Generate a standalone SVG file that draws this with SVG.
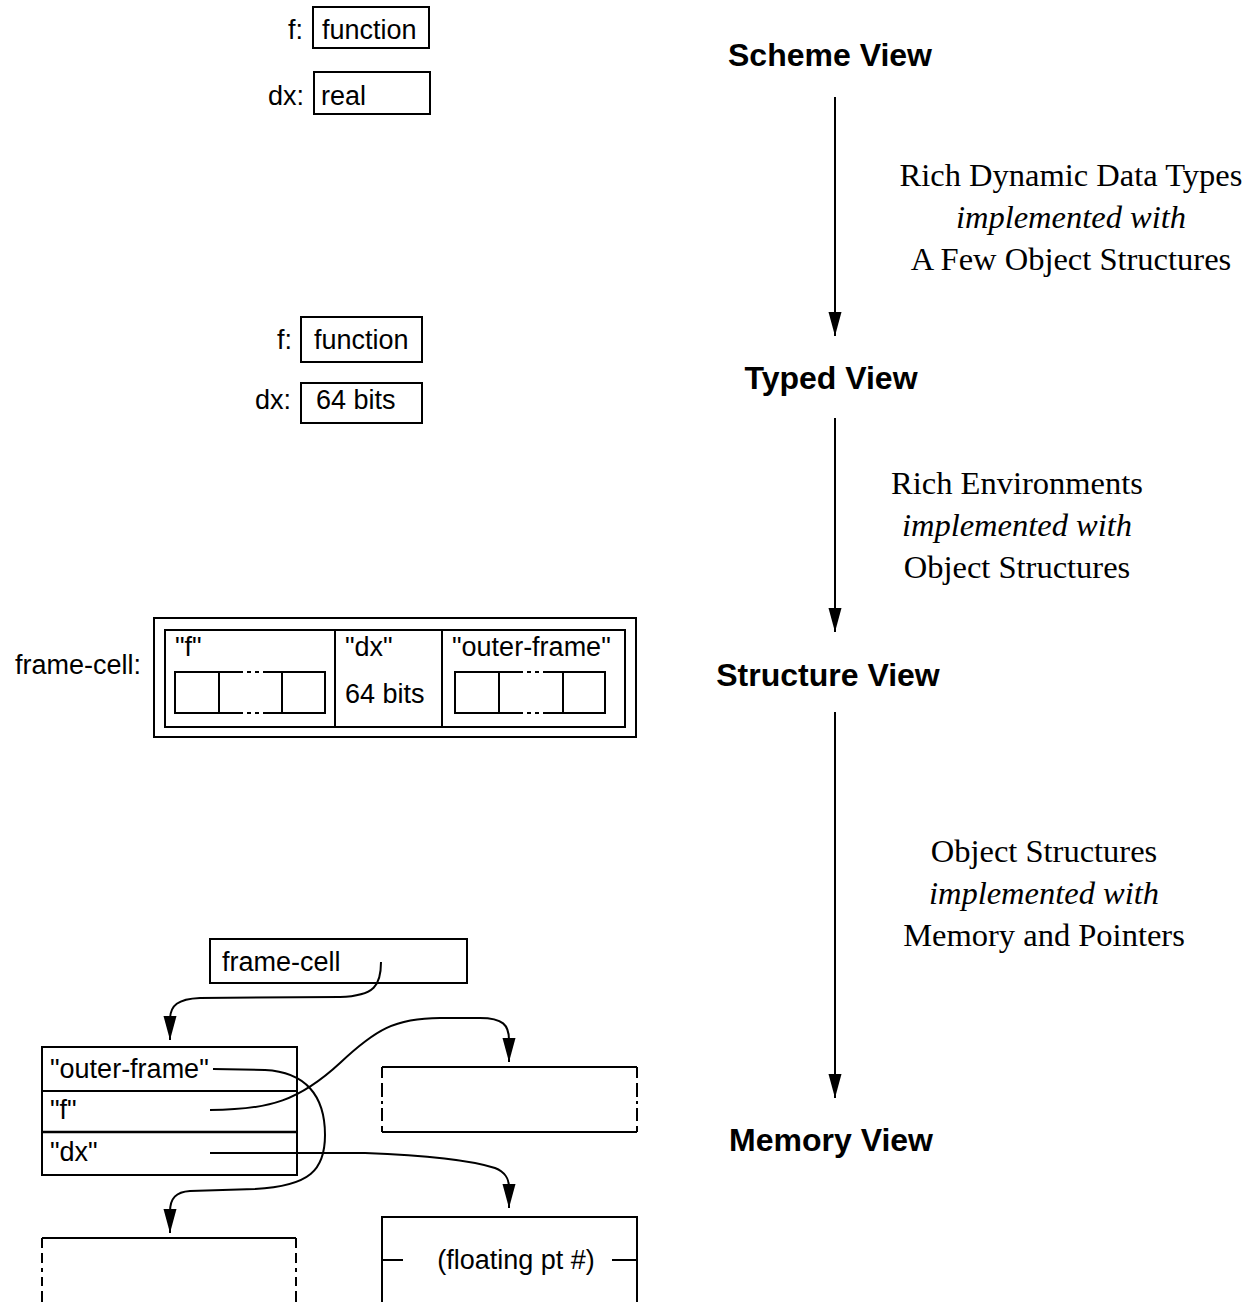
<svg xmlns="http://www.w3.org/2000/svg" width="1257" height="1302" viewBox="0 0 1257 1302">
<style>
.box{fill:none;stroke:#000;stroke-width:2}
.ln{fill:none;stroke:#000;stroke-width:2}
.s{font-family:"Liberation Sans",Arial,sans-serif;font-size:27px;fill:#000}
.b{font-family:"Liberation Sans",Arial,sans-serif;font-size:32px;font-weight:bold;fill:#000;text-anchor:middle}
.r{font-family:"Liberation Serif","Times New Roman",serif;font-size:32.5px;fill:#000;text-anchor:middle}
.i{font-style:italic}
.e{text-anchor:end}
.m{text-anchor:middle}
</style>
<defs>
<marker id="ah" markerUnits="userSpaceOnUse" markerWidth="26" markerHeight="14" refX="24" refY="6.5" orient="auto" viewBox="0 0 26 14">
<path d="M0,0 L24,6.5 L0,13 z" fill="#000"/>
</marker>
</defs>
<rect width="1257" height="1302" fill="#fff"/>

<g id="scheme-view">
<text class="s e" x="303" y="39">f:</text>
<rect class="box" x="313" y="7" width="116" height="41"/>
<text class="s" x="322" y="39">function</text>
<text class="s e" x="304" y="105">dx:</text>
<rect class="box" x="314" y="72" width="116" height="42"/>
<text class="s" x="321" y="105">real</text>
</g>

<g id="typed-view">
<text class="s e" x="292" y="349">f:</text>
<rect class="box" x="301" y="317" width="121" height="45"/>
<text class="s" x="314" y="349">function</text>
<text class="s e" x="291" y="409">dx:</text>
<rect class="box" x="301" y="383" width="121" height="40"/>
<text class="s" x="316" y="409">64 bits</text>
</g>

<g id="structure-view">
<text class="s" x="15" y="674">frame-cell:</text>
<rect class="box" x="154" y="618" width="482" height="119"/>
<rect class="box" x="165" y="630" width="460" height="97"/>
<line class="ln" x1="335" y1="630" x2="335" y2="727"/>
<line class="ln" x1="442" y1="630" x2="442" y2="727"/>
<text class="s" x="175" y="656">"f"</text>
<text class="s" x="345" y="656">"dx"</text>
<text class="s" x="345" y="703">64 bits</text>
<text class="s" x="452" y="656">"outer-frame"</text>
<path class="ln" d="M219,672 H175 V713 H219 M219,672 V713 M282,672 V713 M282,672 H325 V713 H282 M219,672 H243 M247,672 H251 M255,672 H259 M263,672 H282 M219,713 H243 M247,713 H251 M255,713 H259 M263,713 H282"/>
<path class="ln" d="M499,672 H455 V713 H499 M499,672 V713 M563,672 V713 M563,672 H605 V713 H563 M499,672 H523 M527,672 H531 M535,672 H539 M543,672 H563 M499,713 H523 M527,713 H531 M535,713 H539 M543,713 H563"/>
</g>

<g id="memory-frame-cell">
<rect class="box" x="210" y="939" width="257" height="44"/>
<text class="s" x="222" y="971">frame-cell</text>
</g>

<g id="memory-frame">
<rect class="box" x="42" y="1047" width="255" height="128"/>
<line class="ln" x1="42" y1="1091" x2="297" y2="1091"/>
<line x1="42" y1="1132" x2="297" y2="1132" stroke="#000" stroke-width="2.6"/>
<text class="s" x="50" y="1078">"outer-frame"</text>
<text class="s" x="50" y="1119">"f"</text>
<text class="s" x="50" y="1161">"dx"</text>
</g>

<g id="memory-function">
<path class="ln" d="M382,1067 H637 M382,1132 H637 M382,1067 V1078 M382,1083 V1097 M382,1101 V1104 M382,1108 V1121 M382,1126 V1132 M637,1067 V1078 M637,1083 V1097 M637,1101 V1104 M637,1108 V1121 M637,1126 V1132"/>
</g>

<g id="memory-outer-frame">
<path class="ln" d="M42,1238 H296 M42,1238 V1248 M42,1253 V1263 M42,1268 V1272 M42,1277 V1286 M42,1291 V1302 M296,1238 V1248 M296,1253 V1263 M296,1268 V1272 M296,1277 V1286 M296,1291 V1302"/>
</g>

<g id="memory-float">
<path class="ln" d="M382,1302 V1217 H637 V1302 M382,1260 H403 M612,1260 H637"/>
<text class="s m" x="516" y="1269">(floating pt #)</text>
</g>

<g id="view-labels">
<text class="b" x="830" y="66">Scheme View</text>
<text class="b" x="831" y="389">Typed View</text>
<text class="b" x="828" y="686">Structure View</text>
<text class="b" x="831" y="1151">Memory View</text>
</g>

<g id="transition-labels">
<text class="r" x="1071" y="186">Rich Dynamic Data Types</text>
<text class="r i" x="1071" y="228">implemented with</text>
<text class="r" x="1071" y="270">A Few Object Structures</text>
<text class="r" x="1017" y="494">Rich Environments</text>
<text class="r i" x="1017" y="536">implemented with</text>
<text class="r" x="1017" y="578">Object Structures</text>
<text class="r" x="1044" y="862">Object Structures</text>
<text class="r i" x="1044" y="904">implemented with</text>
<text class="r" x="1044" y="946">Memory and Pointers</text>
</g>

<g id="connectors">
<line class="ln" x1="835" y1="97" x2="835" y2="336" marker-end="url(#ah)"/>
<line class="ln" x1="835" y1="418" x2="835" y2="632" marker-end="url(#ah)"/>
<line class="ln" x1="835" y1="712" x2="835" y2="1098" marker-end="url(#ah)"/>
<path class="ln" d="M381,962 C381,985 375,996 340,997 L200,998 C178,999 170,1005 170,1020 L170,1040" marker-end="url(#ah)"/>
<path class="ln" d="M213,1069 L265,1070 C305,1072 325,1095 325,1135 C325,1170 310,1186 255,1189 L190,1191 C176,1192 170,1198 170,1212 L170,1233" marker-end="url(#ah)"/>
<path class="ln" d="M210,1110 C270,1110 300,1100 340,1063 C375,1030 395,1018 440,1018 L480,1018 C503,1018 509,1025 509,1040 L509,1062" marker-end="url(#ah)"/>
<path class="ln" d="M210,1153 L365,1153 C420,1155 470,1160 495,1168 C505,1172 509,1178 509,1188 L509,1208" marker-end="url(#ah)"/>
</g>
</svg>
